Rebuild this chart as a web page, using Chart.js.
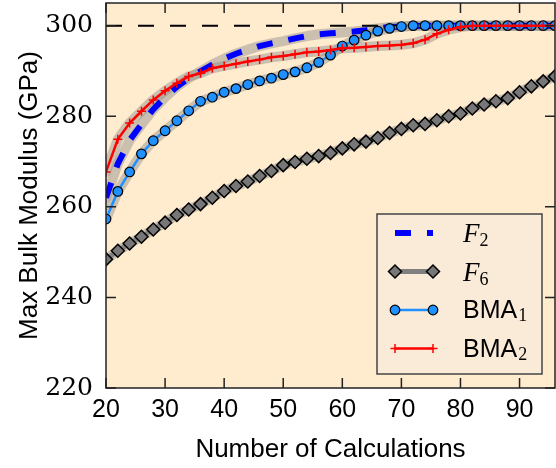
<!DOCTYPE html>
<html>
<head>
<meta charset="utf-8">
<script src="https://cdn.jsdelivr.net/npm/chart.js@4.4.0/dist/chart.umd.min.js"></script>
<style>
  html, body { margin: 0; padding: 0; background: #fff; }
</style>
</head>
<body>
<canvas id="bulkChart" width="556" height="468"></canvas>
<script>
// x values: number of calculations
const calcs = [20, 22, 24, 26, 28, 30, 32, 34, 36, 38, 40, 42, 44, 46, 48, 50, 52, 54, 56, 58,
               60, 62, 64, 66, 68, 70, 72, 74, 76, 78, 80, 82, 84, 86, 88, 90, 92, 94, 96];

const f2Values = [262.0, 269.5, 274.7, 278.2, 281.5, 284.2, 286.5, 288.4, 289.9, 291.4,
                  292.7, 293.8, 294.7, 295.5, 296.1, 296.6, 297.2, 297.7, 298.1, 298.3,
                  298.5, 298.7, 299.0, 299.4, 299.7, 299.8, 299.9, 300, 300, 300,
                  300, 300, 300, 300, 300, 300, 300, 300, 300];

const f6Values = [248.4, 250.3, 251.9, 253.4, 255.0, 256.5, 258.2, 259.4, 260.6, 262.0,
                  263.5, 264.6, 265.6, 266.8, 267.9, 269.2, 269.9, 270.6, 271.2, 271.9,
                  272.9, 273.8, 274.4, 275.2, 276.3, 277.2, 278.0, 278.3, 279.1, 280.0,
                  280.6, 281.7, 282.6, 283.3, 284.0, 285.3, 286.6, 287.7, 288.8];

const bma1Values = [257.3, 263.4, 267.7, 271.7, 274.6, 276.8, 279.0, 281.2, 283.3, 284.2,
                    285.3, 286.1, 287.0, 287.8, 288.4, 289.2, 289.8, 290.7, 291.9, 293.5,
                    295.5, 296.8, 297.9, 298.8, 299.4, 299.8, 300, 300, 300, 300,
                    300, 300, 300, 300, 300, 300, 300, 300, 300];

const bma2Values = [267.7, 274.9, 278.5, 281.1, 283.6, 285.6, 287.3, 288.8, 289.5, 290.6,
                    291.1, 291.6, 292.1, 292.5, 293.0, 293.3, 293.7, 294.1, 294.3, 294.6,
                    295.0, 295.1, 295.3, 295.5, 295.6, 295.8, 296.1, 296.9, 298.2, 299.1,
                    299.7, 300, 300, 300, 300, 300, 300, 300, 300];

const targetModulus = 300;
const xTickValues = [20, 30, 40, 50, 60, 70, 80, 90];
const yTickValues = [220, 240, 260, 280, 300];

const plotBg = '#FFEBCD';
const legendBg = '#FAEBD9';
const haloColor = 'rgba(140, 140, 140, 0.45)';
const sansFont = "'Liberation Sans', Arial, sans-serif";
const serifFont = "'DejaVu Serif', serif";

const toPoints = (vals) => calcs.map((c, i) => ({ x: c, y: vals[i] }));

// draw a single marker (legend samples)
function drawMarker(ctx, ds, x, y) {
    const style = ds.pointStyle;
    const r = ds.pointRadius;
    if (!style || !r) return;
    ctx.save();
    ctx.fillStyle = ds.pointBackgroundColor;
    ctx.strokeStyle = ds.pointBorderColor;
    ctx.lineWidth = ds.pointBorderWidth;
    ctx.setLineDash([]);
    ctx.beginPath();
    if (style === 'circle') {
        ctx.arc(x, y, r, 0, Math.PI * 2);
        ctx.fill();
        ctx.stroke();
    } else if (style === 'rectRot') {
        ctx.moveTo(x - r, y);
        ctx.lineTo(x, y - r);
        ctx.lineTo(x + r, y);
        ctx.lineTo(x, y + r);
        ctx.closePath();
        ctx.fill();
        ctx.stroke();
    } else if (style === 'cross') {
        ctx.moveTo(x, y - r);
        ctx.lineTo(x, y + r);
        ctx.moveTo(x - r, y);
        ctx.lineTo(x + r, y);
        ctx.stroke();
    }
    ctx.restore();
}

const framePlugin = {
    id: 'frame',
    beforeDraw(chart) {
        const { ctx, chartArea: a } = chart;
        ctx.save();
        ctx.fillStyle = plotBg;
        ctx.fillRect(a.left, a.top, a.right - a.left, a.bottom - a.top);
        ctx.restore();
    },
    beforeDatasetsDraw(chart) {
        // tan halo behind each curve
        const { ctx, chartArea: a } = chart;
        ctx.save();
        ctx.beginPath();
        ctx.rect(a.left, a.top, a.right - a.left, a.bottom - a.top);
        ctx.clip();
        ctx.strokeStyle = haloColor;
        ctx.lineWidth = 10;
        ctx.lineJoin = 'round';
        ctx.lineCap = 'round';
        chart.data.datasets.forEach((ds, i) => {
            if (!ds.halo) return;
            const pts = chart.getDatasetMeta(i).data;
            ctx.beginPath();
            pts.forEach((p, j) => (j ? ctx.lineTo(p.x, p.y) : ctx.moveTo(p.x, p.y)));
            ctx.stroke();
        });
        ctx.restore();
    },
    afterDatasetsDraw(chart) {
        const { ctx, chartArea: a, scales } = chart;
        const tick = 10;
        ctx.save();
        ctx.strokeStyle = '#222';
        ctx.lineWidth = 1.5;
        ctx.strokeRect(a.left, a.top, a.right - a.left, a.bottom - a.top);
        ctx.beginPath();
        xTickValues.forEach((v) => {
            const px = scales.x.getPixelForValue(v);
            ctx.moveTo(px, a.bottom);
            ctx.lineTo(px, a.bottom - tick);
            ctx.moveTo(px, a.top);
            ctx.lineTo(px, a.top + tick);
        });
        yTickValues.forEach((v) => {
            const py = scales.y.getPixelForValue(v);
            ctx.moveTo(a.left, py);
            ctx.lineTo(a.left + tick, py);
            ctx.moveTo(a.right, py);
            ctx.lineTo(a.right - tick, py);
        });
        ctx.stroke();
        ctx.restore();
    },
    afterDraw(chart) {
        // legend with line samples and subscripted labels
        const { ctx } = chart;
        const box = { x: 377, y: 214, w: 165, h: 160 };
        ctx.save();
        ctx.fillStyle = legendBg;
        ctx.strokeStyle = '#444';
        ctx.lineWidth = 1.5;
        ctx.fillRect(box.x, box.y, box.w, box.h);
        ctx.strokeRect(box.x, box.y, box.w, box.h);

        const entries = chart.data.datasets.filter((ds) => ds.inLegend);
        entries.forEach((ds, k) => {
            const rowY = box.y + 19 + k * 38.5;
            const x0 = box.x + 18, x1 = box.x + 56;
            ctx.save();
            ctx.strokeStyle = ds.borderColor;
            ctx.lineWidth = ds.borderWidth;
            ctx.setLineDash(ds.borderDash || []);
            ctx.beginPath();
            ctx.moveTo(x0, rowY);
            ctx.lineTo(x1, rowY);
            ctx.stroke();
            ctx.restore();
            drawMarker(ctx, ds, x0, rowY);
            drawMarker(ctx, ds, x1, rowY);

            const m = ds.label.match(/^(\D+)(\d+)$/);
            const main = m[1], sub = m[2];
            const tx = box.x + 86;
            ctx.fillStyle = '#000';
            ctx.textAlign = 'left';
            ctx.textBaseline = 'alphabetic';
            if (main === 'F') {
                ctx.font = "italic 27px 'Liberation Serif', serif";
                ctx.fillText(main, tx, rowY + 9);
                const w = ctx.measureText(main).width;
                ctx.font = "18px 'Liberation Serif', serif";
                ctx.fillText(sub, tx + w, rowY + 13);
            } else {
                ctx.font = '25px ' + sansFont;
                ctx.fillText(main, tx, rowY + 8);
                const w = ctx.measureText(main).width;
                ctx.font = "18px 'Liberation Serif', serif";
                ctx.fillText(sub, tx + w + 1, rowY + 11);
            }
        });
        ctx.restore();
    }
};

const ctx = document.getElementById('bulkChart').getContext('2d');

const bulkChart = new Chart(ctx, {
    type: 'line',
    data: {
        datasets: [
            {
                label: 'F2',
                data: toPoints(f2Values),
                borderColor: '#0000FF',
                borderWidth: 6,
                borderDash: [16, 16],
                pointRadius: 0,
                halo: true,
                inLegend: true,
                order: 5,
                clip: 0,
            },
            {
                label: 'target',
                data: [{ x: calcs[0], y: targetModulus }, { x: calcs[calcs.length - 1], y: targetModulus }],
                borderColor: '#000',
                borderWidth: 2,
                borderDash: [16, 16],
                pointRadius: 0,
                order: 4,
                clip: 0,
            },
            {
                label: 'F6',
                data: toPoints(f6Values),
                borderColor: '#808080',
                borderWidth: 5,
                pointStyle: 'rectRot',
                pointRadius: 6.5,
                pointBackgroundColor: '#777777',
                pointBorderColor: '#000',
                pointBorderWidth: 1.5,
                halo: true,
                inLegend: true,
                order: 3,
                clip: 0,
            },
            {
                label: 'BMA1',
                data: toPoints(bma1Values),
                borderColor: '#1E90FF',
                borderWidth: 2.5,
                pointStyle: 'circle',
                pointRadius: 4.8,
                pointBackgroundColor: '#1E90FF',
                pointBorderColor: '#000',
                pointBorderWidth: 1.2,
                halo: true,
                inLegend: true,
                order: 2,
                clip: 0,
            },
            {
                label: 'BMA2',
                data: toPoints(bma2Values),
                borderColor: '#FF0000',
                borderWidth: 2.5,
                pointStyle: 'cross',
                pointRadius: 4.5,
                pointBackgroundColor: '#FF0000',
                pointBorderColor: '#FF0000',
                pointBorderWidth: 1.5,
                halo: true,
                inLegend: true,
                order: 1,
                clip: 0,
            },
        ],
    },
    options: {
        responsive: false,
        animation: false,
        devicePixelRatio: 1,
        layout: { autoPadding: false, padding: { top: 3, right: 1, left: 0, bottom: 0 } },
        plugins: {
            legend: { display: false },
            tooltip: { enabled: false },
        },
        scales: {
            x: {
                type: 'linear',
                min: 20,
                max: 96,
                afterBuildTicks: (s) => { s.ticks = xTickValues.map((v) => ({ value: v })); },
                afterFit: (s) => { s.height = 80; s.paddingLeft = 0; s.paddingRight = 0; },
                grid: { display: false, drawTicks: false },
                border: { display: false },
                ticks: {
                    color: '#000',
                    font: { family: sansFont, size: 25 },
                    padding: 7,
                    maxRotation: 0,
                    autoSkip: false,
                },
                title: {
                    display: true,
                    text: 'Number of Calculations',
                    color: '#000',
                    font: { family: sansFont, size: 26 },
                    padding: { top: 0, bottom: 3 },
                },
            },
            y: {
                type: 'linear',
                min: 220,
                max: 305,
                afterBuildTicks: (s) => { s.ticks = yTickValues.map((v) => ({ value: v })); },
                afterFit: (s) => { s.width = 106; s.paddingTop = 0; s.paddingBottom = 0; },
                grid: { display: false, drawTicks: false },
                border: { display: false },
                ticks: {
                    color: '#000',
                    font: { family: serifFont, size: 25 },
                    padding: 13,
                },
                title: {
                    display: true,
                    text: 'Max Bulk Modulus (GPa)',
                    color: '#000',
                    font: { family: sansFont, size: 26 },
                    padding: { top: 14, bottom: 0 },
                },
            },
        },
    },
    plugins: [framePlugin],
});
</script>
</body>
</html>
